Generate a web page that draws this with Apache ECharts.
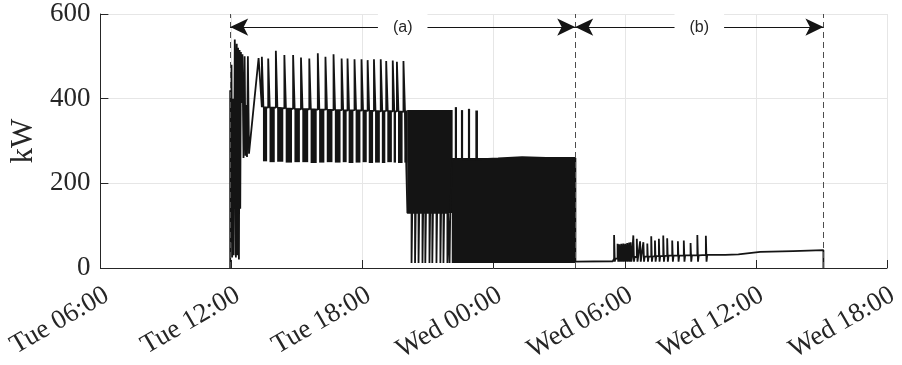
<!DOCTYPE html>
<html>
<head>
<meta charset="utf-8">
<script src="https://cdn.jsdelivr.net/npm/echarts@6/dist/echarts.min.js"></script>
<style>
  html, body { margin: 0; padding: 0; background: #fff; }
  #chart { width: 902px; height: 365px; }
</style>
</head>
<body>
<div id="chart"></div>
<script>
// time in hours counted from Tue 00:00
var xTicks = [6, 12, 18, 24, 30, 36, 42];
var xTickLabels = ['Tue 06:00', 'Tue 12:00', 'Tue 18:00', 'Wed 00:00', 'Wed 06:00', 'Wed 12:00', 'Wed 18:00'];
var yTicks = [0, 200, 400, 600];

// start-up transient
var startT = [11.94, 11.94, 11.98, 12.00, 12.03, 12.07, 12.10, 12.15, 12.18, 12.20, 12.24, 12.27, 12.30, 12.34,
              12.37, 12.40, 12.43, 12.46, 12.50, 12.55, 12.60, 12.64, 12.68, 12.71, 12.75, 12.80, 13.24];
var startV = [0, 420, 60, 480, 25, 400, 30, 540, 410, 25, 530, 30, 520, 20,
              515, 140, 510, 390, 505, 260, 500, 265, 385, 262, 500, 270, 496];

// phase (a): peaks above the ~375 kW level
var spikeT = [13.39, 13.68, 14.03, 14.42, 14.82, 15.18, 15.56, 15.95, 16.30, 16.67, 17.04,
              17.31, 17.63, 17.95, 18.23, 18.52, 18.83, 19.08, 19.38, 19.57, 19.87];
var spikePeak = [499, 495, 513, 503, 503, 497, 495, 507, 499, 505, 495,
                 495, 493, 493, 491, 493, 493, 489, 490, 487, 489];
var spikeBase = [380, 379, 379, 377, 376, 375, 375, 374, 374, 373, 373,
                 372, 373, 372, 371, 371, 370, 371, 370, 370, 369];

// fast switching shown as solid blocks: start, end, low, high
var bandT0 = [13.44, 13.74, 14.09, 14.48, 14.88, 15.24, 15.62, 16.01, 16.36, 16.73, 17.09,
              17.36, 17.68, 18.00, 18.28, 18.57, 18.88, 19.13, 19.42, 19.62, 19.91,
              20.04, 22.08, 22.22, 22.50, 22.82, 23.16];
var bandT1 = [13.63, 13.98, 14.37, 14.77, 15.13, 15.51, 15.90, 16.25, 16.62, 16.99, 17.27,
              17.58, 17.90, 18.19, 18.48, 18.79, 19.04, 19.34, 19.53, 19.83, 20.05,
              22.12, 27.74, 22.32, 22.60, 22.92, 23.28];
var bandLo = [252, 250, 251, 249, 250, 250, 248, 249, 250, 249, 250,
              248, 249, 250, 248, 249, 248, 250, 249, 248, 249,
              130, 12, 255, 255, 255, 255];
var bandHi = [380, 379, 378, 377, 376, 375, 375, 374, 374, 373, 373,
              372, 373, 372, 371, 371, 370, 371, 370, 370, 372,
              373, 260, 380, 373, 376, 372];

// drops to ~12 kW below the 130 kW block
var dropT = [20.24, 20.40, 20.56, 20.74, 20.87, 21.06, 21.19, 21.38, 21.56, 21.70, 21.88, 21.98];
var dropHi = 130, dropLo = 12;

// top edge of the dense block and idle stretch after phase (a)
var idleT = [22.10, 23.00, 24.20, 25.30, 26.40, 27.74, 27.74, 29.45];
var idleV = [257, 256, 259, 262, 260, 260, 15, 16];

// phase (b): small peaks
var spike2T = [29.51, 29.67, 29.75, 29.84, 29.93, 30.02, 30.11, 30.20, 30.27, 30.39, 30.55, 30.70, 30.85,
               31.03, 31.21, 31.38, 31.56, 31.76, 31.94, 32.17, 32.43, 32.70, 33.01, 33.32, 33.71];
var spike2Peak = [78, 57, 56, 57, 58, 57, 59, 60, 61, 77, 69, 63, 61,
                  58, 75, 65, 69, 77, 70, 65, 63, 65, 59, 78, 76];
var spike2Base = [22, 23, 23, 23, 24, 24, 24, 25, 25, 26, 26, 26, 27,
                  27, 27, 28, 28, 28, 29, 29, 29, 30, 30, 30, 31];
var spike2Low = 15;

// slow rise to the end
var tailT = [33.80, 34.60, 35.20, 35.50, 35.55, 36.20, 37.70, 39.09, 39.09];
var tailV = [30, 31, 32, 34, 36, 38, 40, 42, 0];

// phase markers
var markT = [11.94, 27.73, 39.09];
var arrowLevel = 569;

var lineData = [];
function add(t, v) { lineData.push([t, v]); }
startT.forEach(function (t, i) { add(t, startV[i]); });
spikeT.forEach(function (t, i) {
    add(t, spikeBase[i]); add(t, spikePeak[i]);
    add(t + 0.07, spikePeak[i]); add(t + 0.07, spikeBase[i]);
});
add(20.05, dropHi);
dropT.forEach(function (t) {
    add(t, dropHi); add(t, dropLo); add(t + 0.03, dropLo); add(t + 0.03, dropHi);
});
idleT.forEach(function (t, i) { add(t, idleV[i]); });
spike2T.forEach(function (t, i) {
    add(t, spike2Base[i]); add(t, spike2Peak[i]);
    add(t + 0.03, spike2Peak[i]); add(t + 0.03, spike2Low);
    add(t + 0.06, spike2Low); add(t + 0.06, spike2Base[i]);
});
tailT.forEach(function (t, i) { add(t, tailV[i]); });

var bandData = bandT0.map(function (t, i) { return [t, bandT1[i], bandLo[i], bandHi[i]]; });

var serif = 'Liberation Serif';
var txt = '#262626';
var arrowLabel = {
    show: true, position: 'middle', distance: 0, verticalAlign: 'middle',
    fontFamily: 'Liberation Sans', fontSize: 16, color: txt,
    backgroundColor: '#fff', padding: [7, 15]
};

var chart = echarts.init(document.getElementById('chart'));
chart.setOption({
    animation: false,
    grid: [
        { left: 98, right: 15, top: 14, bottom: 97 },
        // label-only grid, shifted right so rotated labels end just past each tick
        { left: 107, right: 6, top: 14, bottom: 97 }
    ],
    xAxis: [{
        type: 'value', gridIndex: 0, min: 6, max: 42, interval: 6,
        axisLine: { show: true, lineStyle: { color: txt, width: 1 } },
        axisTick: { show: true, inside: true, length: 8, lineStyle: { color: txt } },
        axisLabel: { show: false },
        splitLine: { show: true, lineStyle: { color: '#e6e6e6', width: 1 } }
    }, {
        type: 'value', gridIndex: 1, min: 6, max: 42, interval: 6,
        axisLine: { show: false }, axisTick: { show: false }, splitLine: { show: false },
        axisLabel: {
            rotate: 30, margin: 28, showMinLabel: true, showMaxLabel: true,
            fontFamily: serif, fontSize: 27, color: txt,
            formatter: function (v) { return xTickLabels[xTicks.indexOf(Math.round(v))]; }
        }
    }],
    yAxis: [{
        type: 'value', gridIndex: 0, min: 0, max: 600, interval: 200,
        name: 'kW', nameLocation: 'middle', nameGap: 60,
        nameTextStyle: { fontFamily: serif, fontSize: 31, color: txt },
        axisLine: { show: true, lineStyle: { color: txt, width: 1 } },
        axisTick: { show: true, inside: true, length: 8, lineStyle: { color: txt } },
        axisLabel: { fontFamily: serif, fontSize: 27, color: txt, margin: 10,
            formatter: function (v) { return yTicks.indexOf(v) >= 0 ? String(v) : ''; } },
        splitLine: { show: true, lineStyle: { color: '#e6e6e6', width: 1 } }
    }, {
        type: 'value', gridIndex: 1, min: 0, max: 600, show: false
    }],
    series: [{
        type: 'custom',
        xAxisIndex: 0, yAxisIndex: 0,
        data: bandData,
        encode: { x: [0, 1], y: [2, 3] },
        renderItem: function (params, api) {
            var p0 = api.coord([api.value(0), api.value(3)]);
            var p1 = api.coord([api.value(1), api.value(2)]);
            return {
                type: 'rect',
                shape: { x: p0[0], y: p0[1], width: Math.max(1, p1[0] - p0[0]), height: p1[1] - p0[1] },
                style: { fill: '#141414' }
            };
        },
        z: 2
    }, {
        type: 'line',
        xAxisIndex: 0, yAxisIndex: 0,
        data: lineData,
        showSymbol: false,
        lineStyle: { color: '#141414', width: 1.8 },
        z: 3,
        markLine: {
            silent: true,
            symbol: 'none',
            data: [
                { xAxis: markT[0], lineStyle: { type: [6, 4], color: '#4d4d4d', width: 1 }, label: { show: false } },
                { xAxis: markT[1], lineStyle: { type: [6, 4], color: '#4d4d4d', width: 1 }, label: { show: false } },
                { xAxis: markT[2], lineStyle: { type: [6, 4], color: '#4d4d4d', width: 1 }, label: { show: false } },
                [{ coord: [markT[0], arrowLevel], symbol: 'arrow', symbolSize: [13, 18],
                   lineStyle: { type: 'solid', color: '#141414', width: 1.2 },
                   label: Object.assign({ formatter: '(a)' }, arrowLabel) },
                 { coord: [markT[1], arrowLevel], symbol: 'arrow', symbolSize: [13, 18] }],
                [{ coord: [markT[1], arrowLevel], symbol: 'arrow', symbolSize: [13, 18],
                   lineStyle: { type: 'solid', color: '#141414', width: 1.2 },
                   label: Object.assign({ formatter: '(b)' }, arrowLabel) },
                 { coord: [markT[2], arrowLevel], symbol: 'arrow', symbolSize: [13, 18] }]
            ]
        }
    }]
});
</script>
</body>
</html>
